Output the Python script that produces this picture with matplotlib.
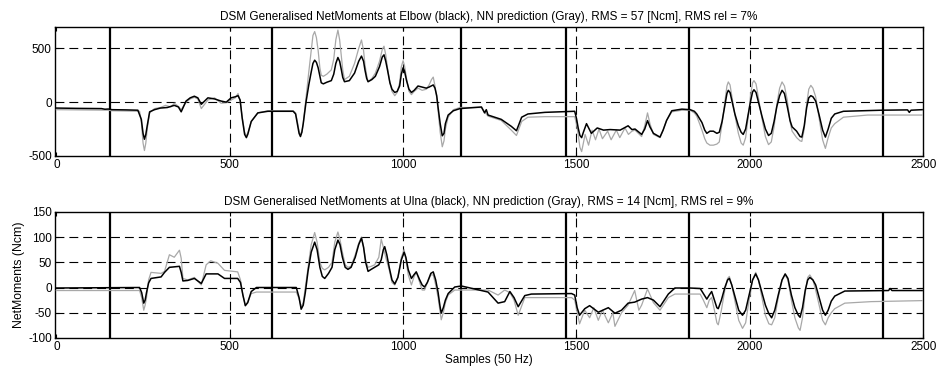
import matplotlib
matplotlib.use('Agg')
import matplotlib.pyplot as plt

plt.rcParams['font.family'] = ['Liberation Sans', 'DejaVu Sans']
plt.rcParams['axes.unicode_minus'] = False

# Segment boundaries (samples)
seg_bounds = [155, 623, 1168, 1471, 1825, 2385]

# Elbow, measured (black)
elbow_x = [0, 60, 130, 140, 150, 160, 200, 235, 245, 250, 254, 258, 262, 269, 283, 300, 320, 340, 352, 360,
           374, 386, 398, 408, 418, 437, 456, 475, 490, 504, 516, 524, 530, 536, 543, 548, 552, 562, 581,
           610, 683, 690, 695, 700, 704, 708, 712, 720, 728, 735, 740, 745, 750, 755, 760, 764, 770, 780,
           793, 800, 806, 812, 817, 822, 826, 831, 845, 860, 872, 880, 886, 890, 895, 899, 910, 920, 932,
           940, 945, 950, 955, 962, 968, 976, 983, 990, 995, 1000, 1004, 1010, 1017, 1024, 1032, 1043,
           1055, 1067, 1075, 1087, 1092, 1097, 1101, 1107, 1113, 1118, 1122, 1130, 1145, 1164, 1226, 1235,
           1240, 1245, 1283, 1312, 1327, 1342, 1360, 1409, 1495, 1500, 1505, 1510, 1515, 1520, 1529, 1543,
           1560, 1578, 1597, 1626, 1649, 1660, 1669, 1688, 1697, 1705, 1712, 1722, 1741, 1750, 1760, 1775,
           1804, 1828, 1840, 1847, 1862, 1870, 1876, 1885, 1895, 1905, 1912, 1920, 1928, 1934, 1938, 1943,
           1950, 1957, 1967, 1975, 1981, 1988, 1995, 2003, 2008, 2012, 2018, 2025, 2035, 2045, 2054, 2062,
           2070, 2078, 2086, 2093, 2100, 2108, 2116, 2122, 2135, 2145, 2150, 2157, 2164, 2170, 2176, 2182,
           2190, 2200, 2210, 2218, 2226, 2235, 2245, 2270, 2381, 2455, 2460, 2465, 2497]
elbow_y = [-55, -58, -60, -66, -64, -70, -72, -75, -160, -290, -345, -300, -220, -90, -70, -55, -50, -30, -45, -90,
           10, 40, 55, 40, -20, 40, 30, 10, 0, 40, 50, 60, 20, -150, -300, -330, -300, -180, -100,
           -85, -85, -110, -200, -290, -320, -280, -200, 0, 160, 280, 360, 390, 370, 320, 240, 180, 170, 185,
           200, 260, 360, 415, 380, 300, 230, 190, 200, 270, 380, 428, 380, 300, 220, 190, 210, 240, 330,
           420, 440, 380, 300, 180, 120, 90, 100, 150, 260, 319, 290, 200, 120, 90, 110, 150,
           140, 130, 140, 160, 130, 60, -50, -200, -313, -290, -200, -120, -80, -60, -45, -100,
           -70, -120, -160, -225, -266, -140, -110, -95, -85, -150, -240, -310, -330, -280, -200, -290,
           -240, -260, -255, -260, -220, -255, -250, -300, -250, -172, -230, -290, -325, -260, -170, -80,
           -65, -70, -85, -110, -190, -260, -290, -270, -270, -290, -280, -180, -30, 80, 110, 90,
           -10, -110, -220, -280, -300, -250, -120, 20, 95, 115, 90, 0, -130, -250, -310, -290,
           -180, -40, 60, 110, 80, -40, -170, -230, -270, -320, -325, -220, -50, 40, 60, 50,
           10, -120, -260, -325, -250, -150, -110, -85, -75, -72, -95, -75, -70]

# Elbow, NN prediction (gray)
elbow_nn_x = [0, 150, 160, 240, 245, 250, 254, 258, 262, 269, 283, 300, 315, 330, 340, 352, 360, 374, 386,
              398, 408, 418, 437, 456, 475, 490, 504, 516, 524, 530, 536, 543, 548, 552, 562, 581, 610, 683,
              690, 695, 700, 704, 708, 712, 720, 728, 735, 740, 745, 750, 755, 760, 764, 770, 780, 793, 800,
              806, 812, 817, 822, 826, 831, 845, 860, 872, 880, 886, 890, 895, 899, 910, 920, 932, 940, 945,
              950, 955, 962, 968, 976, 983, 990, 995, 1000, 1004, 1010, 1017, 1024, 1032, 1043, 1055, 1067,
              1075, 1082, 1087, 1092, 1097, 1101, 1107, 1113, 1118, 1122, 1130, 1145, 1164, 1226, 1235,
              1245, 1283, 1312, 1327, 1342, 1360, 1409, 1495, 1500, 1505, 1510, 1515, 1525, 1535, 1545,
              1555, 1565, 1575, 1590, 1600, 1615, 1625, 1640, 1650, 1660, 1669, 1688, 1697, 1705, 1712,
              1722, 1741, 1750, 1760, 1775, 1804, 1828, 1840, 1847, 1862, 1870, 1876, 1885, 1895, 1905,
              1912, 1920, 1928, 1934, 1938, 1943, 1950, 1957, 1967, 1975, 1981, 1988, 1995, 2003, 2008,
              2012, 2018, 2025, 2035, 2045, 2054, 2062, 2070, 2078, 2086, 2093, 2100, 2108, 2116, 2122,
              2135, 2145, 2150, 2157, 2164, 2170, 2176, 2182, 2190, 2200, 2210, 2218, 2226, 2235, 2245,
              2270, 2340, 2497]
elbow_nn_y = [-70, -75, -80, -85, -180, -380, -450, -380, -250, -100, -60, -50, -30, -45, -10, -40, -70, 0, 30,
              45, 30, -60, 20, 40, -10, -5, 20, 40, 80, 10, -140, -280, -310, -290, -180, -100, -80, -80,
              -100, -180, -270, -300, -280, -200, 40, 280, 480, 620, 656, 600, 480, 320, 250, 240, 260, 300, 400,
              580, 670, 580, 420, 300, 210, 240, 360, 500, 578, 480, 350, 250, 190, 220, 270, 380, 490, 520,
              440, 320, 180, 100, 60, 90, 180, 330, 385, 340, 220, 100, 70, 100, 130, 110, 120,
              160, 210, 233, 150, 40, -80, -280, -415, -360, -250, -140, -70, -50, -50, -90,
              -130, -170, -260, -310, -180, -140, -135, -135, -200, -300, -420, -460, -300, -400, -260,
              -350, -250, -340, -270, -350, -260, -330, -240, -300, -270, -260, -320, -220, -100, -200,
              -300, -330, -260, -170, -90, -75, -75, -100, -130, -260, -340, -380, -400, -400, -390,
              -370, -200, 0, 150, 188, 160, 20, -120, -290, -380, -400, -330, -150, 80, 180,
              200, 170, 40, -150, -320, -395, -370, -230, -20, 130, 188, 150, 20, -180, -270,
              -330, -360, -365, -250, -20, 120, 156, 130, 50, -150, -350, -430, -330, -240, -200,
              -140, -120, -120]

# Ulna, measured (black)
ulna_x = [0, 240, 246, 252, 256, 260, 266, 273, 302, 312, 326, 355, 360, 365, 379, 398, 418, 432, 466, 485,
          523, 531, 538, 545, 552, 562, 577, 692, 700, 706, 712, 718, 726, 735, 745, 752, 760, 767, 774, 785,
          795, 803, 812, 818, 825, 833, 841, 850, 862, 872, 880, 886, 892, 899, 908, 918, 930, 937, 943, 947,
          953, 960, 968, 976, 985, 995, 1003, 1008, 1015, 1024, 1031, 1038, 1048, 1055, 1062, 1070, 1080,
          1087, 1094, 1101, 1106, 1110, 1116, 1122, 1130, 1149, 1168, 1245, 1274, 1293, 1308, 1320, 1332,
          1351, 1370, 1486, 1495, 1502, 1509, 1524, 1538, 1563, 1592, 1611, 1630, 1649, 1668, 1688, 1705,
          1722, 1741, 1765, 1784, 1827, 1857, 1866, 1876, 1883, 1890, 1898, 1905, 1909, 1918, 1928, 1936,
          1941, 1948, 1958, 1968, 1979, 1988, 1998, 2008, 2017, 2025, 2035, 2045, 2055, 2063, 2072, 2082,
          2093, 2102, 2110, 2120, 2130, 2140, 2145, 2152, 2160, 2167, 2173, 2182, 2190, 2200, 2210, 2218,
          2226, 2235, 2245, 2274, 2400, 2405, 2410, 2497]
ulna_y = [-1, 0, -10, -31, -25, -10, 9, 18, 21, 30, 40, 42, 30, 13, 14, 18, 8, 27, 27, 18,
          18, 10, -15, -36, -30, -8, 0, 0, -20, -43, -35, -10, 33, 70, 90, 75, 40, 22, 18, 28,
          40, 75, 94, 85, 60, 40, 36, 40, 60, 85, 98, 80, 50, 32, 36, 40, 45, 55, 75, 81,
          65, 40, 15, 7, 20, 55, 70, 60, 35, 18, 25, 31, 15, 5, 1, 10, 28,
          31, 15, -10, -35, -51, -40, -25, -12, 1, 3, -9, -31, -28, -8, -20, -38,
          -16, -13, -12, -15, -40, -55, -42, -36, -49, -40, -51, -45, -31, -29, -23, -20,
          -25, -38, -13, -1, -1, -2, -12, -23, -15, -8, -25, -40, -42, -25, 0, 15,
          18, 5, -20, -45, -55, -45, -15, 15, 27, 15, -10, -35, -52, -60, -45, -15,
          15, 27, 18, -15, -40, -55, -59, -40, -5, 15, 20, 15, 5, -20, -45, -55,
          -45, -27, -17, -7, -6, -2, -6, -6]

# Ulna, NN prediction (gray)
ulna_nn_x = [0, 240, 246, 252, 256, 260, 266, 273, 302, 312, 326, 340, 355, 360, 365, 379, 398, 418, 432, 445,
             466, 485, 523, 531, 538, 545, 552, 562, 577, 692, 700, 706, 712, 718, 726, 735, 745, 752, 760, 767,
             774, 785, 795, 803, 812, 818, 825, 833, 841, 850, 862, 872, 880, 886, 892, 899, 908, 918, 930,
             937, 943, 950, 960, 968, 976, 985, 995, 1003, 1008, 1015, 1024, 1031, 1038, 1048, 1055, 1062,
             1070, 1080, 1087, 1094, 1101, 1106, 1110, 1116, 1122, 1130, 1149, 1245, 1274, 1293, 1308, 1320,
             1332, 1351, 1370, 1486, 1495, 1509, 1524, 1538, 1550, 1563, 1575, 1592, 1605, 1611, 1630, 1649,
             1668, 1680, 1688, 1705, 1722, 1741, 1765, 1784, 1857, 1866, 1876, 1883, 1890, 1898, 1905, 1909,
             1918, 1928, 1936, 1941, 1948, 1958, 1968, 1979, 1988, 1998, 2008, 2017, 2025, 2035, 2045, 2055,
             2063, 2072, 2082, 2093, 2102, 2110, 2120, 2130, 2140, 2145, 2152, 2160, 2167, 2173, 2182, 2190,
             2200, 2210, 2218, 2226, 2235, 2245, 2274, 2350, 2497]
ulna_nn_y = [-6, -6, -20, -45, -35, -20, 15, 30, 28, 32, 65, 60, 74, 58, 18, 15, 20, 5, 45, 53,
             48, 34, 31, 15, -15, -36, -28, -12, -9, -9, -22, -38, -30, 0, 40, 85, 109, 90, 50, 38,
             35, 40, 50, 90, 110, 95, 70, 45, 40, 42, 65, 88, 100, 80, 55, 40, 42, 45, 60,
             96, 80, 60, 35, 10, 5, 20, 60, 75, 55, 25, 5, 20, 31, 10, -5, -5,
             10, 25, 25, 5, -20, -45, -64, -50, -30, -15, -5, -5, -15, -5, -10, -25,
             -55, -20, -20, -20, -25, -72, -45, -60, -40, -65, -45, -70, -50, -77, -50, -35,
             -6, -45, -35, -3, -30, -45, -20, -13, -13, -25, -40, -25, -20, -45, -70, -74,
             -45, -5, 18, 22, 5, -30, -65, -81, -70, -25, 15, 30, 15, -20, -55, -72,
             -74, -60, -20, 15, 25, 15, -25, -60, -80, -85, -60, -10, 20, 25, 15, -5,
             -35, -65, -74, -60, -50, -42, -31, -28, -26]

panels = [
    dict(x=elbow_x, y=elbow_y, nx=elbow_nn_x, ny=elbow_nn_y, ylim=(-500, 700),
         yticks=[-500, 0, 500],
         title='DSM Generalised NetMoments at Elbow (black), NN prediction (Gray), RMS = 57 [Ncm], RMS rel = 7%'),
    dict(x=ulna_x, y=ulna_y, nx=ulna_nn_x, ny=ulna_nn_y, ylim=(-100, 150),
         yticks=[-100, -50, 0, 50, 100, 150],
         title='DSM Generalised NetMoments at Ulna (black), NN prediction (Gray), RMS = 14 [Ncm], RMS rel = 9%'),
]

fig = plt.figure(figsize=(9.42, 3.73), dpi=100)
boxes = [[0.058, 0.582, 0.922, 0.346], [0.058, 0.094, 0.922, 0.338]]

for box, p in zip(boxes, panels):
    ax = fig.add_axes(box)
    ax.set_xlim(-5, 2500)
    ax.set_ylim(*p['ylim'])
    ax.set_xticks([0, 500, 1000, 1500, 2000, 2500])
    ax.set_yticks(p['yticks'])

    # dashed grid, MATLAB style
    for gx in [500, 1000, 1500, 2000]:
        ax.axvline(gx, color='black', lw=0.8, dashes=(8, 4.5), zorder=1)
    for gy in p['yticks']:
        if p['ylim'][0] < gy < p['ylim'][1]:
            ax.axhline(gy, color='black', lw=0.8, dashes=(8, 4.5), zorder=1)

    for b in seg_bounds:
        ax.axvline(b, color='black', lw=1.6, zorder=2)

    ax.plot(p['nx'], p['ny'], color='#a8a8a8', lw=0.9, zorder=3)
    ax.plot(p['x'], p['y'], color='black', lw=1.1, zorder=4)

    ax.set_title(p['title'], fontsize=8.5, pad=5)
    ax.tick_params(direction='in', length=3, labelsize=8.5, top=True, right=True, pad=2)
    for s in ax.spines.values():
        s.set_linewidth(1.0)

ax.set_xlabel('Samples (50 Hz)', fontsize=8.5, labelpad=1)
ax.set_ylabel('NetMoments (Ncm)', fontsize=8.8, labelpad=2)

fig.savefig('out.png', dpi=100)
